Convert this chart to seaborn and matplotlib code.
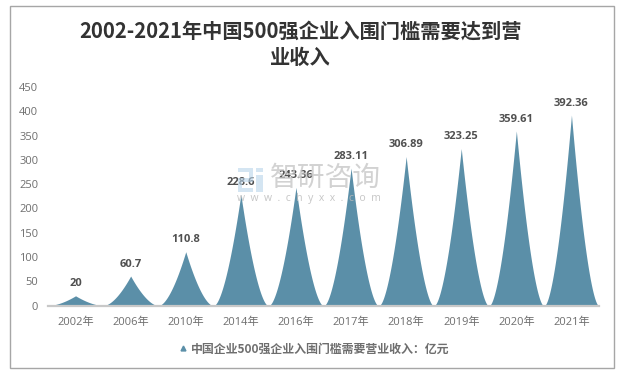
import numpy as np
import pandas as pd
import matplotlib
matplotlib.use('Agg')
import matplotlib.pyplot as plt
import seaborn as sns
from matplotlib.lines import Line2D
from matplotlib.patches import Rectangle

years = ['2002年', '2006年', '2010年', '2014年', '2016年', '2017年', '2018年', '2019年', '2020年', '2021年']
values = [20, 60.7, 110.8, 228.6, 243.36, 283.11, 306.89, 323.25, 359.61, 392.36]
value_labels = ['20', '60.7', '110.8', '228.6', '243.36', '283.11', '306.89', '323.25', '359.61', '392.36']
y_ticks = [0, 50, 100, 150, 200, 250, 300, 350, 400, 450]
series_name = '中国企业500强企业入围门槛需要营业收入：亿元'
title = '2002-2021年中国500强企业入围门槛需要达到营\n业收入'

sns.set_theme(style='white')
plt.rcParams['font.family'] = ['Noto Sans CJK SC', 'DejaVu Sans']

df = pd.DataFrame({'year': years, 'value': values})

fig = plt.figure(figsize=(6.17, 3.73), dpi=100)
# pixel position of the plot area: x 48-599, y 87-305.5
ax = fig.add_axes([48 / 617, (373 - 305.5) / 373, 551 / 617, 218.5 / 373])

sns.barplot(x='year', y='value', data=df, ax=ax, width=1.0, color='#5B8FA8')

# turn each bar into a sharp peak
color = '#5B8FA8'
for bar, label in zip(ax.patches, value_labels):
    x0 = bar.get_x()
    w = bar.get_width()
    h = bar.get_height()
    bar.set_visible(False)
    t = np.linspace(0, 1, 101)
    shape = (1 - np.abs(2 * t - 1)) ** 1.65
    ax.fill_between(x0 + 0.01 + (w - 0.02) * t, 0, h * shape, color=color, lw=0, zorder=2)
    ax.text(x0 + w / 2, h + 13, label, ha='center', va='bottom', fontsize=8,
            fontweight='bold', color='#505050', zorder=5,
            family=['Open Sans', 'DejaVu Sans'])

ax.set_xlim(-0.5, 9.5)
ax.set_ylim(0, 450)
ax.set_yticks(y_ticks)
ax.set_xlabel('')
ax.set_ylabel('')
ax.tick_params(axis='both', length=0, labelsize=8, labelcolor='#6e6e6e')
ax.tick_params(axis='x', pad=8)
ax.tick_params(axis='y', pad=7)
for lab in ax.get_xticklabels() + ax.get_yticklabels():
    lab.set_fontfamily(['Open Sans', 'Noto Sans CJK SC'])
for s in ['top', 'right', 'left']:
    ax.spines[s].set_visible(False)
ax.spines['bottom'].set_color('#c8c8c8')
ax.spines['bottom'].set_linewidth(1.6)

fig.text(300.5 / 617, 1 - 44 / 373, title, ha='center', va='center', fontsize=14.6,
         fontweight='bold', color='#333333', linespacing=1.3)

# watermark
fig.text(325 / 617, 1 - 178 / 373, '智研咨询', ha='center', va='center', fontsize=20,
         color='#c4c4c4', alpha=0.75, zorder=4)
fig.text(309 / 617, 1 - 199 / 373, 'w  w  w  .  c  h  y  x  x  .  c  o  m', ha='center', va='center',
         fontsize=7.5, color='#bcbcbc', alpha=0.85, zorder=4,
         family=['Open Sans', 'DejaVu Sans'])
# logo strokes, in pixels: left, top, width, height
logo_blocks = [(238, 168, 15, 4), (249, 172, 4, 6), (238, 178, 15, 4), (238, 182, 4, 6), (238, 188, 15, 4),
               (256, 168, 7, 4), (256, 175, 7, 17)]
for left, top, bw, bh in logo_blocks:
    fig.add_artist(Rectangle((left / 617, 1 - (top + bh) / 373), bw / 617, bh / 373, transform=fig.transFigure,
                             fc='#b8d4ea', ec='none', alpha=0.6, zorder=3))

# legend at the bottom
handle = Line2D([], [], marker='^', ls='', ms=3.5, color=color)
fig.legend(handles=[handle], labels=[series_name], loc='center', bbox_to_anchor=(313 / 617, 1 - 349 / 373),
           frameon=False, handlelength=1, handletextpad=0.2, prop={'size': 8.6, 'weight': 'bold'}, labelcolor='#6e6e6e')

# chart border
fig.add_artist(Rectangle((9.5 / 617, 1 - 368 / 373), 604.5 / 617, 362.5 / 373, transform=fig.transFigure,
                         fc='none', ec='#a6a6a6', lw=1))

fig.savefig('out.png', dpi=100)
